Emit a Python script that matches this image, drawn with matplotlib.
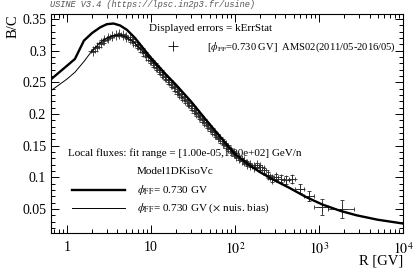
import numpy as np
import matplotlib
matplotlib.use("Agg")
import matplotlib.pyplot as plt
from matplotlib.ticker import FixedLocator, FixedFormatter, NullFormatter

plt.rcParams['font.family'] = ['Liberation Serif', 'DejaVu Serif']
plt.rcParams['mathtext.fontset'] = 'stix'

# AMS02 B/C data (rigidity bin edges, bin centres, values, stat errors)
bin_edges = [1.92, 2.15, 2.40, 2.67, 2.97, 3.29, 3.64, 4.02, 4.43, 4.88, 5.37,
             5.90, 6.47, 7.09, 7.76, 8.48, 9.26, 10.1, 11.0, 12.0, 13.0, 14.1,
             15.3, 16.6, 18.0, 19.5, 21.1, 22.8, 24.7, 26.7, 28.8, 31.1, 33.5,
             36.1, 38.9, 41.9, 45.1, 48.5, 52.2, 56.1, 60.3, 64.8, 69.7, 74.9,
             80.5, 86.5, 93.0, 100, 108, 116, 125, 135, 147, 160, 175, 192,
             211, 233, 259, 291, 330, 379, 441, 525, 660, 880, 1300, 2600]
rig = [2.03, 2.27, 2.53, 2.81, 3.12, 3.46, 3.83, 4.22, 4.65, 5.12, 5.63,
       6.18, 6.77, 7.42, 8.11, 8.86, 9.67, 10.5, 11.5, 12.5, 13.5, 14.7,
       15.9, 17.3, 18.7, 20.3, 21.9, 23.7, 25.7, 27.7, 29.9, 32.3, 34.8,
       37.5, 40.4, 43.5, 46.8, 50.3, 54.1, 58.2, 62.5, 67.2, 72.3, 77.6,
       83.4, 89.7, 96.4, 104, 112, 120, 130, 141, 153, 167, 183, 201,
       222, 246, 275, 310, 354, 409, 481, 590, 760, 1080, 1880]
bc = [0.300, 0.306, 0.312, 0.317, 0.320, 0.323, 0.325, 0.326, 0.325, 0.322, 0.319,
      0.314, 0.309, 0.304, 0.298, 0.292, 0.286, 0.280, 0.275, 0.269, 0.264, 0.258,
      0.253, 0.248, 0.243, 0.237, 0.232, 0.227, 0.222, 0.217, 0.212, 0.207, 0.202,
      0.197, 0.192, 0.188, 0.183, 0.178, 0.173, 0.169, 0.164, 0.160, 0.155, 0.151,
      0.146, 0.142, 0.138, 0.134, 0.131, 0.128, 0.125, 0.121, 0.119, 0.117, 0.119,
      0.116, 0.111, 0.104, 0.097, 0.101, 0.098, 0.096, 0.097, 0.082, 0.070, 0.053,
      0.050]
bc_err = [0.002, 0.002, 0.002, 0.002, 0.002, 0.002, 0.002, 0.002, 0.002, 0.002, 0.002,
          0.002, 0.002, 0.002, 0.002, 0.002, 0.002, 0.002, 0.002, 0.002, 0.002, 0.002,
          0.002, 0.002, 0.002, 0.002, 0.002, 0.002, 0.002, 0.002, 0.002, 0.002, 0.002,
          0.002, 0.002, 0.002, 0.002, 0.002, 0.002, 0.002, 0.002, 0.002, 0.002, 0.002,
          0.002, 0.002, 0.002, 0.002, 0.003, 0.003, 0.003, 0.003, 0.003, 0.003, 0.004,
          0.004, 0.004, 0.005, 0.005, 0.005, 0.005, 0.006, 0.006, 0.007, 0.008, 0.012,
          0.014]

# Model curves (thick: best fit, thin: with nuisance bias)
model_r = [0.65, 1.0, 1.25, 1.6, 2.0, 2.5, 3.0, 3.6, 4.3, 5.2, 6.5, 8.0, 10,
           15, 20, 30, 50, 70, 100, 150, 200, 300, 450, 700, 1100, 1800,
           2800, 5000, 10000]
model_thick = [0.255, 0.276, 0.287, 0.316, 0.328, 0.337, 0.342, 0.343, 0.340,
               0.333, 0.320, 0.305, 0.289, 0.263, 0.246, 0.220, 0.184, 0.161,
               0.137, 0.119, 0.108, 0.095, 0.083, 0.069, 0.057, 0.047, 0.040,
               0.033, 0.027]
model_thin = [0.237, 0.255, 0.266, 0.283, 0.300, 0.313, 0.320, 0.324, 0.325,
              0.321, 0.312, 0.299, 0.286, 0.262, 0.245, 0.220, 0.184, 0.161,
              0.137, 0.119, 0.108, 0.095, 0.083, 0.069, 0.057, 0.047, 0.040,
              0.033, 0.027]

xticks = [1, 10, 100, 1000, 10000]
xtick_labels = ['1', '10', r'$10^{2}$', r'$10^{3}$', r'$10^{4}$']
yticks = [0.05, 0.1, 0.15, 0.2, 0.25, 0.3, 0.35]
ytick_labels = ['0.05', '0.1', '0.15', '0.2', '0.25', '0.3', '0.35']

fig = plt.figure(figsize=(4.15, 2.70), dpi=100)
ax = fig.add_axes([0.123, 0.137, 0.848, 0.811])

edges = np.array(bin_edges)
x = np.array(rig)
xerr = [x - edges[:-1], edges[1:] - x]
ax.errorbar(x, bc, xerr=xerr, yerr=bc_err, fmt='+', color='#2a2a2a', ms=6.5,
            mew=0.6, elinewidth=0.6, capsize=1.5, capthick=0.6, zorder=2)

ax.plot(model_r, model_thin, color='k', lw=0.7, zorder=3)
ax.plot(model_r, model_thick, color='k', lw=1.7, zorder=4)

ax.set_xscale('log')
ax.set_xlim(0.65, 10000)
ax.set_ylim(0.012, 0.358)

ax.xaxis.set_major_locator(FixedLocator(xticks))
ax.xaxis.set_major_formatter(FixedFormatter(xtick_labels))
ax.xaxis.set_minor_locator(FixedLocator(
    [m * 10.0 ** e for e in range(-1, 4) for m in range(2, 10)]))
ax.xaxis.set_minor_formatter(NullFormatter())
ax.yaxis.set_major_locator(FixedLocator(yticks))
ax.yaxis.set_major_formatter(FixedFormatter(ytick_labels))
ax.yaxis.set_minor_locator(FixedLocator(np.arange(0.02, 0.36, 0.01)))

ax.tick_params(which='both', direction='in', top=True, right=True, width=0.7,
               labelsize=10)
ax.tick_params(which='major', length=6)
ax.tick_params(which='minor', length=3)
ax.tick_params(axis='x', pad=6)
for s in ax.spines.values():
    s.set_linewidth(0.8)

fig.text(0.031, 0.948, 'B/C', rotation=90, ha='center', va='top', fontsize=10.5)
fig.text(0.971, 0.033, 'R [GV]', ha='right', va='center', fontsize=10.5)
fig.text(0.121, 0.982, 'USINE V3.4 (https://lpsc.in2p3.fr/usine)',
         family='Liberation Mono', style='italic', fontsize=6.2,
         color='#555555', ha='left', va='center')

fs = 8
ax.text(0.278, 0.936, 'Displayed errors = kErrStat', transform=ax.transAxes,
        fontsize=fs, va='center')
ax.plot([0.347], [0.854], '+', color='k', ms=7, mew=0.6, transform=ax.transAxes)
ax.text(0.443, 0.849, r'[$\phi_{\rm FF}$=0.730 GV]  AMS02(2011/05-2016/05)',
        transform=ax.transAxes, fontsize=7.6, va='center')
ax.text(0.048, 0.365,
        'Local fluxes: fit range = [1.00e-05,1.00e+02] GeV/n',
        transform=ax.transAxes, fontsize=fs, va='center', zorder=1)
ax.text(0.244, 0.279, 'Model1DKisoVc', transform=ax.transAxes, fontsize=fs,
        va='center')
ax.plot([0.060, 0.210], [0.196, 0.196], color='k', lw=1.7, transform=ax.transAxes)
ax.text(0.244, 0.196, r'$\phi_{\rm FF}$= 0.730 GV', transform=ax.transAxes,
        fontsize=fs, va='center')
ax.plot([0.060, 0.210], [0.114, 0.114], color='k', lw=0.7, transform=ax.transAxes)
ax.text(0.244, 0.114, r'$\phi_{\rm FF}$= 0.730 GV ($\times$ nuis. bias)',
        transform=ax.transAxes, fontsize=fs, va='center')

fig.savefig('out.png', dpi=100)
